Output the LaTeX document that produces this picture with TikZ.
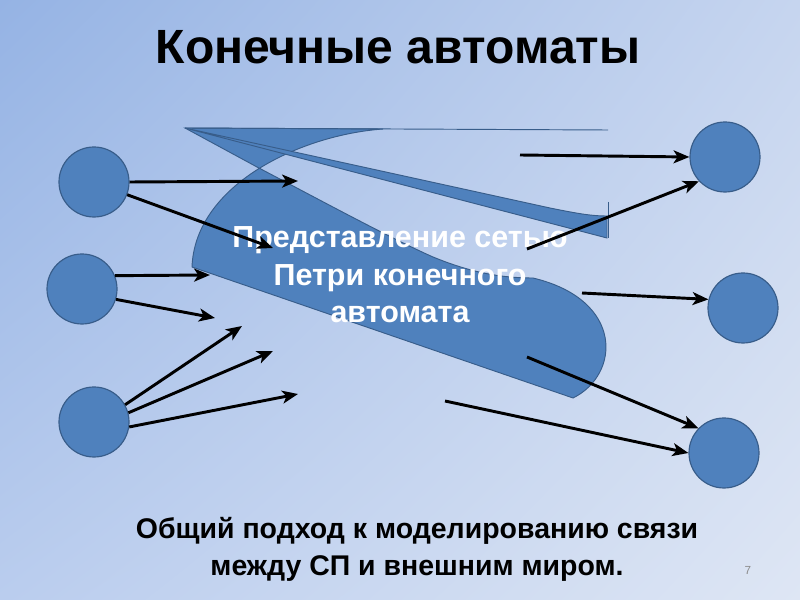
\documentclass[tikz,border=0pt]{standalone}
\usepackage{fontspec}
\setmainfont{Liberation Sans}
\usetikzlibrary{arrows.meta, positioning, shadings}
\definecolor{bgTL}{HTML}{95B3E4}
\definecolor{bgTR}{HTML}{C6D5EF}
\definecolor{bgBL}{HTML}{BACDEE}
\definecolor{bgBR}{HTML}{DEE6F4}
\definecolor{placefill}{HTML}{4F81BD}
\definecolor{placeedge}{HTML}{385D8A}
\definecolor{pagegray}{HTML}{8C8C8C}

\begin{document}
\begin{tikzpicture}[
    x=0.03cm, y=-0.03cm,
    place/.style={
        circle, fill=placefill, draw=placeedge, line width=1pt,
        minimum size=2.1cm, inner sep=0pt,
    },
    link/.style={
        -{Stealth[length=13.5pt, width=11pt, inset=3.5pt]},
        line width=2.5pt, black,
    },
    blob/.style={fill=placefill, draw=placeedge, line width=0.8pt},
    heading/.style={font=\fontsize{41}{48}\selectfont\bfseries, anchor=base},
]

% ── Background ──────────────────────────────────────────────────────────────
\useasboundingbox (0,0) rectangle (800,600);
\shade[upper left=bgTL, upper right=bgTR, lower left=bgBL, lower right=bgBR]
    (0,0) rectangle (800,600);

\node[heading] (title) at (398,64) {Конечные автоматы};

% ── Net shape ───────────────────────────────────────────────────────────────
\filldraw[blob] (185,128) -- (383,129) .. controls (300,135) and (195,185) .. (192,267)
    -- (573,398) .. controls (620,375) and (625,300) .. (533,278)
    .. controls (495,278) and (465,270) .. (433,257)
    .. controls (390,238) and (320,200) .. (257,167) -- cycle;
\filldraw[blob] (185,128) -- (607,238) -- (607,216)
    .. controls (590,216) and (575,213) .. (550,208) -- cycle;
\draw[placeedge, line width=0.8pt] (185,128) -- (608,130);
\draw[placeedge, line width=0.8pt] (608,202) -- (608,238);

\node[align=center, text=white, font=\fontsize{26}{32}\selectfont\bfseries]
    (label) at (400,275) {Представление сетью\\Петри конечного\\автомата};

% ── Places ──────────────────────────────────────────────────────────────────
\node[place] (inA)  at (94,182)  {};
\node[place] (inB)  at (82,289)  {};
\node[place] (inC)  at (94,422)  {};
\node[place] (outA) at (725,157) {};
\node[place] (outB) at (743,308) {};
\node[place] (outC) at (724,453) {};

% ── Free ends ───────────────────────────────────────────────────────────────
\coordinate (a1) at (298,181);
\coordinate (a2) at (273,248);
\coordinate (b1) at (210,275);
\coordinate (b2) at (215,318);
\coordinate (c1) at (242,326);
\coordinate (c2) at (273,351);
\coordinate (c3) at (298,394);
\coordinate (d1) at (520,155);
\coordinate (d2) at (527,249);
\coordinate (e1) at (582,293);
\coordinate (f1) at (527,357);
\coordinate (f2) at (445,401);

% ── Arrows ──────────────────────────────────────────────────────────────────
\draw[link] (inA.east) -- (a1);
\draw[link] (inA.-21)  -- (a2);
\draw[link] (inB.22)   -- (b1);
\draw[link] (inB.-17)  -- (b2);
\draw[link] (inC.29)   -- (c1);
\draw[link] (inC.15)   -- (c2);
\draw[link] (inC.-8)   -- (c3);
\draw[link] (d1) -- (outA.west);
\draw[link] (d2) -- (outA.223);
\draw[link] (e1) -- (outB.166);
\draw[link] (f1) -- (outC.136);
\draw[link] (f2) -- (outC.west);

% ── Footer ──────────────────────────────────────────────────────────────────
\node[align=center, font=\fontsize{24.3}{31.5}\selectfont\bfseries]
    (note) at (417,549) {Общий подход к моделированию связи\\между СП и внешним миром.};
\node[text=pagegray, font=\fontsize{10}{12}\selectfont] (page) at (748,570) {7};

\end{tikzpicture}
\end{document}
